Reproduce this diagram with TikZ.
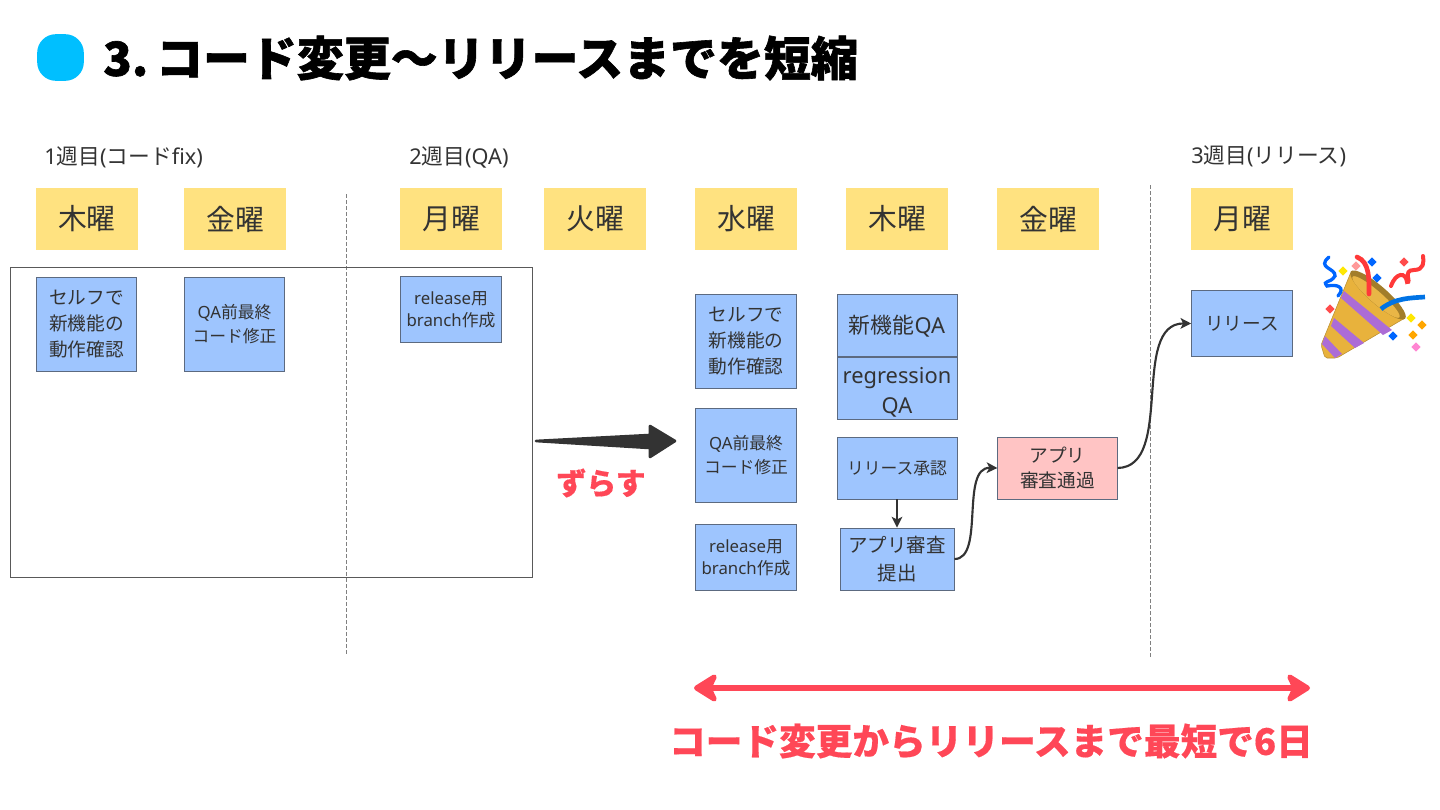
\documentclass[tikz,border=0pt]{standalone}
\usepackage{fontspec}
\setmainfont{Noto Sans CJK JP}[BoldFeatures={FakeBold=0.4}]
\newfontfamily\titlefont{Noto Sans CJK JP}[BoldFeatures={FakeBold=1.3}]
\newfontfamily\latinfont{Noto Sans}
\usepackage{xcolor}
\usetikzlibrary{arrows.meta,positioning,calc}
\definecolor{stickyY}{RGB}{255,226,128}
\definecolor{taskB}{RGB}{158,197,254}
\definecolor{taskP}{RGB}{255,196,196}
\definecolor{lineD}{RGB}{92,106,128}
\definecolor{alertR}{RGB}{255,71,87}
\definecolor{inkD}{RGB}{51,51,51}
\definecolor{dotB}{RGB}{0,191,255}
\definecolor{coneY}{RGB}{232,178,60}
\definecolor{coneP}{RGB}{172,108,214}
\newcommand{\fs}[2]{\fontsize{#1}{#2}\selectfont}
\newcommand{\lt}[1]{{\latinfont #1}}

\begin{document}
\begin{tikzpicture}[
    x=0.75pt, y=-0.75pt,
    sticky/.style={fill=stickyY, minimum width=76.5pt, minimum height=46.5pt, inner sep=0pt, text=inkD, font=\fs{21.6}{26}},
    task/.style={draw=lineD, line width=0.7pt, fill=taskB, inner sep=0pt, minimum width=75.5pt, align=center, text=inkD, font=\fs{14}{19.2}},
    small/.style={task, font=\fs{12.6}{17.5}},
    wide/.style={task, minimum width=90pt, minimum height=46.5pt, font=\fs{16.4}{22.5}},
    week/.style={anchor=west, inner sep=0pt, text=inkD, font=\fs{16.3}{18}},
    arrow/.style={-{Stealth[length=8pt,width=8pt,inset=2pt]}, line width=1.6pt, draw=inkD},
    guide/.style={dash pattern=on 3pt off 1.5pt, line width=0.7pt, draw=black!50},
    confetti/.style={minimum size=5pt, inner sep=0pt, rotate=45},
]
    \useasboundingbox (0,0) rectangle (1440,810);

    % title
    \node[fill=dotB, rounded corners=14pt, minimum size=35pt, inner sep=0pt] (dot) at (60.5,57.5) {};
    \node[anchor=west, inner sep=0pt, font=\fs{35.2}{44}\titlefont\bfseries] (title) at (103,58) {3.\,コード変更〜リリースまでを短縮};

    % weeks
    \node[week] (week1) at (44,157) {\lt{1}週目\lt{(}コード\lt{fix)}};
    \node[week] (week2) at (409,157) {\lt{2}週目\lt{(QA)}};
    \node[week] (week3) at (1191,156) {\lt{3}週目\lt{(}リリース\lt{)}};

    % days
    \node[sticky] (thu1) at (87,219) {木曜};
    \node[sticky] (fri1) at (235,219) {金曜};
    \node[sticky] (mon2) at (451,219) {月曜};
    \node[sticky] (tue2) at (595,219) {火曜};
    \node[sticky] (wed2) at (746,219) {水曜};
    \node[sticky] (thu2) at (897,219) {木曜};
    \node[sticky] (fri2) at (1048,219) {金曜};
    \node[sticky] (mon3) at (1242,219) {月曜};

    % week borders
    \coordinate (guide1a) at (346.5,194);
    \coordinate (guide1b) at (346.5,655);
    \coordinate (guide2a) at (1150.5,185);
    \coordinate (guide2b) at (1150.5,657);
    \draw[guide] (guide1a) -- (guide1b);
    \draw[guide] (guide2a) -- (guide2b);

    % old plan
    \node[draw=black!65, line width=0.7pt, minimum width=392pt, minimum height=232.5pt, inner sep=0pt] (frame) at (271.5,422) {};
    \node[task, minimum height=70.5pt] (self1) at (86.5,324) {セルフで\\新機能の\\動作確認};
    \node[small, minimum height=70.5pt] (fix1) at (234.5,324) {\lt{QA}前最終\\コード修正};
    \node[small, minimum height=49pt] (branch1) at (451,309.5) {\lt{release}用\\[-1pt]\lt{branch}作成};

    % new plan
    \node[task, minimum height=70.5pt] (self2) at (746,341) {セルフで\\新機能の\\動作確認};
    \node[small, minimum height=70.5pt] (fix2) at (746,455) {\lt{QA}前最終\\コード修正};
    \node[small, minimum height=49pt] (branch2) at (746,557.5) {\lt{release}用\\[-1pt]\lt{branch}作成};
    \node[wide] (newqa) at (897,325.5) {\rule{0pt}{15pt}新機能\lt{QA}};
    \node[wide] (regqa) at (897,388) {\rule{0pt}{19pt}\lt{regression}\\\lt{QA}};
    \node[small, minimum width=90pt, minimum height=46.5pt] (approve) at (897,468) {リリース承認};
    \node[task, font=\fs{14.6}{21}, minimum width=85.5pt, minimum height=46.5pt] (submit) at (897,559) {アプリ審査\\提出};
    \node[task, fill=taskP, minimum width=89.5pt, minimum height=46.5pt] (pass) at (1057.5,468) {アプリ\\審査通過};
    \node[task, minimum height=49pt] (rel) at (1242,323.5) {リリース};

    \draw[arrow] (approve) -- (submit);
    \draw[arrow] (submit.east) .. controls (985,559) and (960,467) .. (pass.west);
    \draw[arrow] (pass.east) .. controls (1175,467) and (1130,323) .. (rel.west);

    % shift
    \coordinate (shiftA) at (536,441);
    \coordinate (shiftB) at (675,441);
    \fill[draw=inkD, fill=inkD, line width=2pt, line join=round] (shiftA)
        -- ($(shiftB)+(-25,-6)$) -- ($(shiftB)+(-25,-15)$) -- (shiftB)
        -- ($(shiftB)+(-25,16)$) -- ($(shiftB)+(-25,7)$) -- cycle;
    \node[text=alertR, inner sep=0pt, font=\fs{22.5}{26}\bfseries] (shiftlabel) at (601,483) {ずらす};

    % span
    \coordinate (spanA) at (694,688);
    \coordinate (spanB) at (1310,688);
    \draw[{Stealth[round,length=21pt,width=26pt,inset=6pt]}-{Stealth[round,length=21pt,width=26pt,inset=6pt]}, line width=3.8pt, draw=alertR] (spanA) -- (spanB);
    \node[text=alertR, inner sep=0pt, font=\fs{27.5}{32}\bfseries] (spanlabel) at (991,741) {コード変更からリリースまで最短で6日};

    % party popper
    \draw[coneY!80!black, fill=coneY, line join=round, rounded corners=1.5pt] (1351,272) -- (1321,345) -- (1325,358) -- (1337,358) -- (1405,318) -- cycle;
    \fill[coneP] (1344,291) -- (1341,298) -- (1383,335) -- (1392,330) -- cycle;
    \fill[coneP] (1334,318) -- (1331,326) -- (1355,348) -- (1364,343) -- cycle;
    \fill[coneP] (1325,336) -- (1322,344) -- (1335,358) -- (1342,354) -- cycle;
    \fill[coneY!70!black, rotate around={-41:(1378,295)}] (1378,295) ellipse (36 and 9);
    \fill[coneY!95!white, rotate around={-41:(1376,297)}] (1376,297) ellipse (31 and 6);
    \draw[blue!60!cyan, line width=2.5pt, line cap=round] (1329,257) .. controls (1316,268) and (1336,268) .. (1335,276) .. controls (1330,284) and (1322,280) .. (1327,286) .. controls (1337,284) and (1346,287) .. (1338,296);
    \draw[blue!50!cyan!90!black, line width=3.5pt] (1381,309) .. controls (1395,298) and (1410,298) .. (1425,297);
    \draw[red!70!pink, line width=3.5pt, line cap=round] (1357,257) .. controls (1370,262) and (1369,280) .. (1369,294);
    \draw[red!70!pink, line width=3pt, line cap=round] (1391,286) .. controls (1396,272) and (1406,272) .. (1407,282) .. controls (1412,283) and (1402,270) .. (1414,270) .. controls (1424,270) and (1424,262) .. (1423,256);
    \node[confetti, fill=blue!60!cyan] (conf1) at (1372,262) {};
    \node[confetti, fill=blue!60!cyan] (conf2) at (1377,278) {};
    \node[confetti, fill=blue!60!cyan] (conf3) at (1393,336) {};
    \node[confetti, fill=pink!80!red] (conf4) at (1356,266) {};
    \node[confetti, fill=red!60!pink] (conf5) at (1404,262) {};
    \node[confetti, fill=red!60!pink] (conf6) at (1330,309) {};
    \node[confetti, fill=yellow!90!orange] (conf7) at (1343,271) {};
    \node[confetti, fill=yellow!90!orange] (conf8) at (1411,318) {};
    \node[confetti, fill=orange!70!yellow] (conf9) at (1422,325) {};
    \node[confetti, fill=orange!70!yellow] (conf10) at (1413,335) {};
    \node[confetti, fill=pink!70!magenta] (conf11) at (1416,347) {};
\end{tikzpicture}
\end{document}
